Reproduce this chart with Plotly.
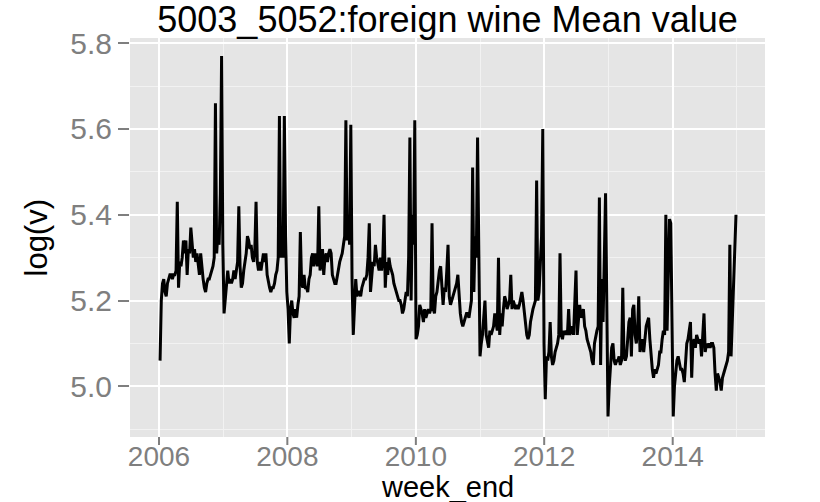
import pandas as pd
import plotly.graph_objects as go

# Weekly log mean value, one list per season (week_end dates run on from 2006-01-07)
log_v_2006 = [5.06, 5.20, 5.24, 5.25, 5.22, 5.21, 5.24, 5.25, 5.26, 5.26,
              5.25, 5.26, 5.26, 5.27, 5.43, 5.23, 5.29, 5.28, 5.30, 5.34,
              5.31, 5.34, 5.26, 5.32, 5.31, 5.37, 5.33, 5.30, 5.32, 5.29,
              5.31, 5.28, 5.26, 5.31, 5.27, 5.25, 5.23, 5.22, 5.24, 5.25,
              5.25, 5.26, 5.27, 5.28, 5.30, 5.66, 5.31, 5.36, 5.33, 5.45,
              5.77, 5.33]
log_v_2007 = [5.17, 5.20, 5.24, 5.27, 5.24, 5.25, 5.24, 5.25, 5.27, 5.25,
              5.27, 5.29, 5.42, 5.28, 5.23, 5.24, 5.27, 5.29, 5.31, 5.35,
              5.34, 5.32, 5.33, 5.30, 5.29, 5.32, 5.43, 5.29, 5.27, 5.29,
              5.27, 5.29, 5.31, 5.29, 5.31, 5.26, 5.24, 5.23, 5.22, 5.23,
              5.23, 5.24, 5.26, 5.27, 5.30, 5.63, 5.30, 5.35, 5.30, 5.63,
              5.35, 5.22]
log_v_2008 = [5.18, 5.10, 5.18, 5.20, 5.17, 5.16, 5.18, 5.16, 5.19, 5.21,
              5.36, 5.24, 5.23, 5.26, 5.23, 5.23, 5.22, 5.25, 5.26, 5.30,
              5.31, 5.28, 5.31, 5.29, 5.28, 5.42, 5.27, 5.29, 5.32, 5.26,
              5.30, 5.31, 5.29, 5.31, 5.32, 5.31, 5.26, 5.25, 5.24, 5.24,
              5.26, 5.28, 5.29, 5.30, 5.31, 5.33, 5.35, 5.62, 5.34, 5.40,
              5.33, 5.61]
log_v_2009 = [5.25, 5.12, 5.20, 5.25, 5.21, 5.22, 5.22, 5.21, 5.23, 5.24,
              5.25, 5.25, 5.26, 5.30, 5.38, 5.22, 5.26, 5.29, 5.28, 5.33,
              5.30, 5.28, 5.27, 5.30, 5.27, 5.30, 5.40, 5.23, 5.29, 5.26,
              5.30, 5.28, 5.27, 5.26, 5.24, 5.23, 5.22, 5.21, 5.20, 5.20,
              5.19, 5.17, 5.18, 5.20, 5.22, 5.21, 5.30, 5.58, 5.20, 5.40,
              5.33, 5.62]
log_v_2010 = [5.11, 5.12, 5.14, 5.19, 5.18, 5.17, 5.15, 5.18, 5.16, 5.17,
              5.18, 5.17, 5.18, 5.38, 5.18, 5.17, 5.21, 5.22, 5.25, 5.27,
              5.28, 5.24, 5.19, 5.23, 5.22, 5.27, 5.33, 5.21, 5.19, 5.20,
              5.21, 5.22, 5.23, 5.24, 5.26, 5.20, 5.17, 5.15, 5.14, 5.15,
              5.16, 5.17, 5.17, 5.16, 5.18, 5.20, 5.51, 5.22, 5.35, 5.30,
              5.58, 5.25]
log_v_2011 = [5.07, 5.10, 5.12, 5.16, 5.20, 5.12, 5.10, 5.09, 5.13, 5.12,
              5.13, 5.14, 5.17, 5.15, 5.13, 5.30, 5.12, 5.17, 5.14, 5.18,
              5.21, 5.20, 5.18, 5.19, 5.20, 5.26, 5.18, 5.20, 5.19, 5.18,
              5.19, 5.18, 5.19, 5.21, 5.22, 5.20, 5.17, 5.14, 5.12, 5.11,
              5.12, 5.15, 5.17, 5.18, 5.19, 5.20, 5.48, 5.20, 5.22, 5.30,
              5.35, 5.60]
log_v_2012 = [5.10, 4.97, 5.07, 5.06, 5.08, 5.15, 5.07, 5.05, 5.06, 5.08,
              5.09, 5.10, 5.12, 5.31, 5.12, 5.11, 5.13, 5.12, 5.13, 5.12,
              5.18, 5.12, 5.13, 5.14, 5.12, 5.18, 5.27, 5.12, 5.17, 5.19,
              5.16, 5.17, 5.18, 5.14, 5.13, 5.11, 5.10, 5.09, 5.08, 5.06,
              5.05, 5.10, 5.12, 5.13, 5.14, 5.44, 5.05, 5.25, 5.15, 5.30,
              5.45, 5.20]
log_v_2013 = [4.93, 5.00, 5.05, 5.09, 5.10, 5.06, 5.05, 5.06, 5.06, 5.07,
              5.05, 5.06, 5.23, 5.07, 5.06, 5.07, 5.11, 5.15, 5.16, 5.07,
              5.18, 5.19, 5.12, 5.10, 5.13, 5.21, 5.08, 5.10, 5.11, 5.08,
              5.12, 5.14, 5.15, 5.16, 5.11, 5.06, 5.04, 5.02, 5.04, 5.03,
              5.04, 5.05, 5.08, 5.08, 5.11, 5.13, 5.12, 5.40, 5.13, 5.25,
              5.39, 5.38]
log_v_2014 = [5.12, 4.93, 5.00, 5.03, 5.06, 5.07, 5.05, 5.04, 5.04, 5.03,
              5.01, 5.05, 5.10, 5.11, 5.13, 5.15, 5.02, 5.10, 5.11, 5.09,
              5.12, 5.11, 5.10, 5.11, 5.07, 5.12, 5.17, 5.08, 5.10, 5.09,
              5.10, 5.09, 5.10, 5.10, 5.09, 5.03, 4.99, 5.03, 5.02, 5.01,
              4.99, 5.02, 5.03, 5.04, 5.05, 5.06, 5.08, 5.33, 5.07, 5.15,
              5.25, 5.30, 5.40]

x_tick_years = [2006, 2008, 2010, 2012, 2014]
y_ticks = [5.0, 5.2, 5.4, 5.6, 5.8]

log_v = (log_v_2006 + log_v_2007 + log_v_2008 + log_v_2009 + log_v_2010
         + log_v_2011 + log_v_2012 + log_v_2013 + log_v_2014)
week_end = pd.date_range("2006-01-07", periods=len(log_v), freq="7D")

FONT = "Liberation Sans, Arial, sans-serif"
PANEL = "#E5E5E5"
GRID_MAJOR = "#FFFFFF"
GRID_MINOR = "#F2F2F2"
TICK_GREY = "#7F7F7F"

W, H = 820, 502
M_L, M_R, M_T, M_B = 130, 55, 38, 65
plot_w = W - M_L - M_R
plot_h = H - M_T - M_B

x_tick_dates = [pd.Timestamp(f"{y}-01-01") for y in x_tick_years]

fig = go.Figure(
    go.Scatter(
        x=week_end, y=log_v, mode="lines",
        line=dict(color="black", width=3),
        hoverinfo="skip",
    )
)

# x tick marks drawn as short segments below the panel so the labels can sit close
tick_marks = [
    dict(type="line", xref="x", yref="paper", x0=d, x1=d, y0=0, y1=-8 / plot_h,
         line=dict(color=TICK_GREY, width=2), layer="above")
    for d in x_tick_dates
]

fig.update_layout(
    width=W, height=H,
    margin=dict(l=M_L, r=M_R, t=M_T, b=M_B, autoexpand=False),
    paper_bgcolor="white",
    plot_bgcolor=PANEL,
    showlegend=False,
    shapes=tick_marks,
    title=dict(
        text="5003_5052:foreign wine Mean value",
        x=0.5, xref="paper", xanchor="center",
        y=1 - 7 / H, yref="container", yanchor="top",
        font=dict(family=FONT, size=36, color="black"),
    ),
    annotations=[
        # axis titles placed in pixel terms below / left of the panel
        dict(text="week_end", xref="paper", yref="paper",
             x=0.5, y=-(487 - (H - M_B)) / plot_h,
             xanchor="center", yanchor="middle", showarrow=False,
             font=dict(family=FONT, size=29, color="black")),
        dict(text="log(v)", xref="paper", yref="paper",
             x=(36 - M_L) / plot_w, y=0.5, textangle=-90,
             xanchor="center", yanchor="middle", showarrow=False,
             font=dict(family=FONT, size=31, color="black")),
    ],
)

fig.update_xaxes(
    range=["2005-07-20", "2015-06-10"],
    automargin=False,
    tickmode="array",
    tickvals=x_tick_dates,
    ticktext=[str(y) for y in x_tick_years],
    ticks="",
    tickfont=dict(family=FONT, size=28, color=TICK_GREY),
    showgrid=True, gridcolor=GRID_MAJOR, gridwidth=2,
    minor=dict(tickmode="array",
               tickvals=[pd.Timestamp(f"{y}-01-01") for y in range(2005, 2016, 2)],
               showgrid=True, gridcolor=GRID_MINOR, gridwidth=1, ticks=""),
    zeroline=False, showline=False,
)

fig.update_yaxes(
    range=[4.882, 5.812],
    automargin=False,
    tickmode="array",
    tickvals=y_ticks,
    ticktext=[f"{v:.1f}" for v in y_ticks],
    ticks="outside", ticklen=11, tickwidth=2, tickcolor=TICK_GREY,
    tickfont=dict(family=FONT, size=30, color=TICK_GREY),
    showgrid=True, gridcolor=GRID_MAJOR, gridwidth=2,
    minor=dict(tickmode="array", tickvals=[4.9, 5.1, 5.3, 5.5, 5.7],
               showgrid=True, gridcolor=GRID_MINOR, gridwidth=1, ticks=""),
    zeroline=False, showline=False,
)

fig.write_html("out.html")
